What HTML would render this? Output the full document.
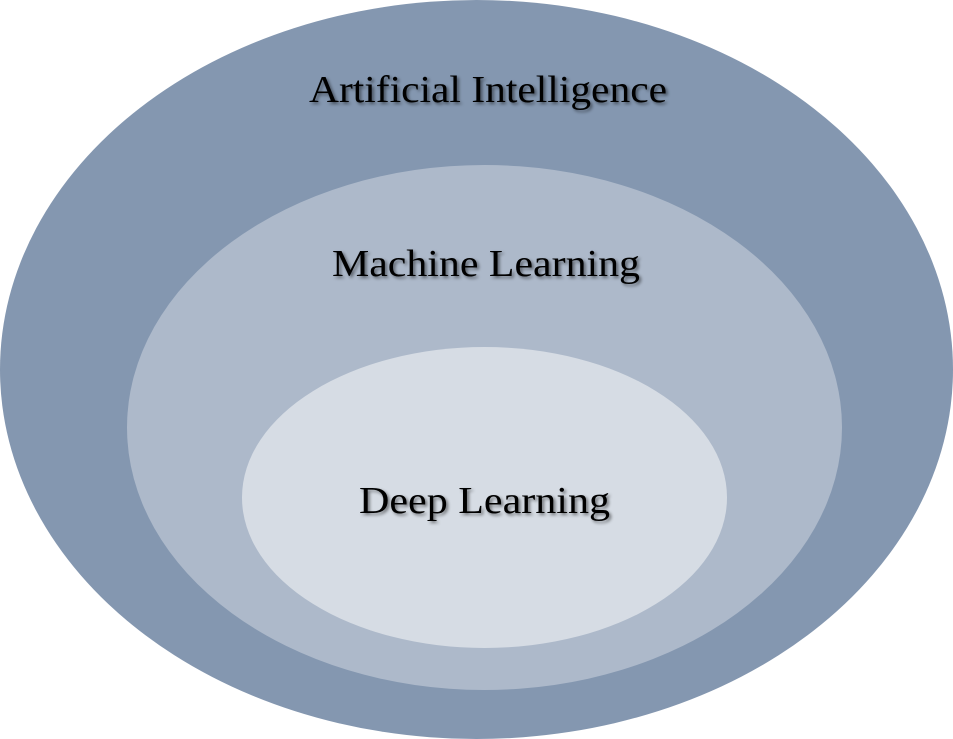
<!DOCTYPE html>
<html><head><style>html,body{margin:0;padding:0;background:#fff}svg{display:block}</style></head>
<body>
<svg width="953" height="739" viewBox="0 0 953 739" xmlns="http://www.w3.org/2000/svg">
<defs><filter id="s" x="-10%" y="-30%" width="120%" height="160%"><feGaussianBlur in="SourceAlpha" stdDeviation="1.5"/><feOffset dx="2" dy="2"/><feComponentTransfer><feFuncA type="linear" slope="0.5"/></feComponentTransfer><feMerge><feMergeNode/><feMergeNode in="SourceGraphic"/></feMerge></filter></defs>
<rect width="953" height="739" fill="#fff"/>
<ellipse cx="476.5" cy="369.5" rx="476.5" ry="369.5" fill="#8497b0"/>
<ellipse cx="484.5" cy="427.5" rx="357.5" ry="262.5" fill="#adb9ca"/>
<ellipse cx="484.5" cy="497.5" rx="242.5" ry="150.5" fill="#d6dce4"/>
<g font-family="'Liberation Serif', serif" font-size="38" fill="#000" filter="url(#s)">
<text x="309" y="102" textLength="358" lengthAdjust="spacingAndGlyphs">Artificial Intelligence</text>
<text x="332" y="276" textLength="308" lengthAdjust="spacingAndGlyphs">Machine Learning</text>
<text x="359" y="513" textLength="251" lengthAdjust="spacingAndGlyphs">Deep Learning</text>
</g>
</svg>
</body></html>
